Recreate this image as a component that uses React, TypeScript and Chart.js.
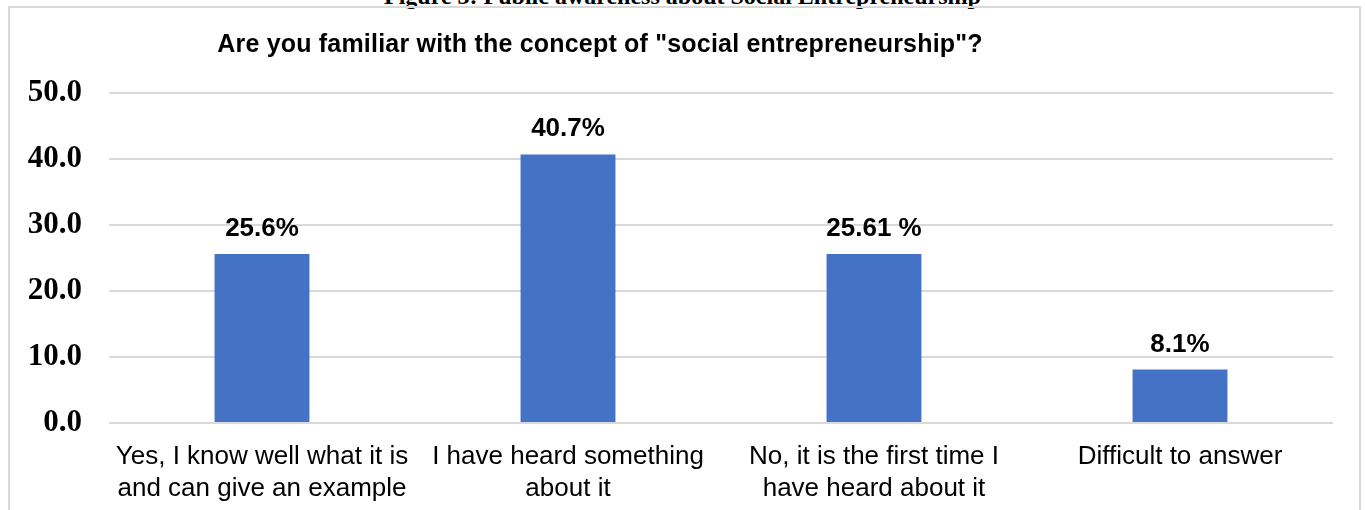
import React, { useEffect, useRef } from "react";
import { Chart, registerables } from "chart.js";

Chart.register(...registerables);

const categories: string[][] = [
  ["Yes, I know well what it is", "and can give an example"],
  ["I have heard something", "about it"],
  ["No, it is the first time I", "have heard about it"],
  ["Difficult to answer"],
];
const values: number[] = [25.6, 40.7, 25.61, 8.1];
const valueLabels: string[] = ["25.6%", "40.7%", "25.61 %", "8.1%"];
const chartTitle = 'Are you familiar with the concept of "social entrepreneurship"?';
const figureCaption = "Figure 3: Public awareness about Social Entrepreneurship";
const yMin = 0;
const yMax = 50;
const yStep = 10;

const SANS = "'Liberation Sans', Arial, Helvetica, sans-serif";
const SERIF = "'Liberation Serif', 'Times New Roman', serif";

const dataLabelPlugin = {
  id: "dataLabels",
  afterDatasetsDraw(chart: any) {
    const ctx = chart.ctx;
    const meta = chart.getDatasetMeta(0);
    ctx.save();
    ctx.font = `bold 26px ${SANS}`;
    ctx.fillStyle = "#000000";
    ctx.textAlign = "center";
    ctx.textBaseline = "alphabetic";
    meta.data.forEach((bar: any, i: number) => {
      ctx.fillText(valueLabels[i], bar.x, bar.y - 18);
    });
    ctx.restore();
  },
};

const titlePlugin = {
  id: "customTitle",
  afterDraw(chart: any) {
    const ctx = chart.ctx;
    ctx.save();
    ctx.font = `bold 25px ${SANS}`;
    ctx.fillStyle = "#000000";
    ctx.textAlign = "center";
    ctx.textBaseline = "alphabetic";
    try {
      (ctx as any).letterSpacing = "0.2px";
    } catch (e) {}
    ctx.fillText(chartTitle, 600, 52);
    ctx.restore();
  },
};

export default function App() {
  const canvasRef = useRef<HTMLCanvasElement | null>(null);

  useEffect(() => {
    if (!canvasRef.current) return;
    const chart = new Chart(canvasRef.current, {
      type: "bar",
      data: {
        labels: categories,
        datasets: [
          {
            data: values,
            backgroundColor: "#4472C4",
            borderWidth: 0,
            barPercentage: 0.31,
            categoryPercentage: 1,
          },
        ],
      },
      options: {
        animation: false,
        responsive: false,
        maintainAspectRatio: false,
        layout: { padding: { left: 0, right: 32, top: 93, bottom: 0 } },
        plugins: {
          legend: { display: false },
          tooltip: { enabled: false },
          title: { display: false },
        },
        scales: {
          x: {
            grid: { display: false, drawTicks: false },
            border: { display: false },
            ticks: {
              color: "#000000",
              font: { family: SANS, size: 26, lineHeight: 1.23 },
              padding: 18,
              maxRotation: 0,
              minRotation: 0,
              autoSkip: false,
            },
            afterFit(scale: any) {
              scale.height = 87;
            },
          },
          y: {
            min: yMin,
            max: yMax,
            grid: { color: "#d9d9d9", lineWidth: 2, drawTicks: false },
            border: { display: false },
            ticks: {
              stepSize: yStep,
              color: "#000000",
              font: { family: SERIF, size: 31, weight: "bold" },
              padding: 27,
              callback: (v: any) => Number(v).toFixed(1),
            },
            afterFit(scale: any) {
              scale.width = 109;
            },
          },
        },
      },
      plugins: [dataLabelPlugin, titlePlugin],
    });
    return () => chart.destroy();
  }, []);

  return (
    <div
      style={{
        position: "absolute",
        left: 0,
        top: 0,
        width: 1365,
        height: 510,
        overflow: "hidden",
        background: "#ffffff",
      }}
    >
      <div
        style={{
          position: "absolute",
          left: 0,
          top: -16,
          width: 1365,
          textAlign: "center",
          fontFamily: SERIF,
          fontWeight: "bold",
          fontSize: 24,
          lineHeight: "24px",
          color: "#000",
          whiteSpace: "nowrap",
        }}
      >
        {figureCaption}
      </div>
      <div
        style={{
          position: "absolute",
          left: 8,
          top: 6,
          width: 1353,
          height: 600,
          border: "2px solid #d9d9d9",
          boxSizing: "border-box",
        }}
      />
      <canvas
        ref={canvasRef}
        width={1365}
        height={510}
        style={{ position: "absolute", left: 0, top: 0, width: 1365, height: 510 }}
      />
    </div>
  );
}
